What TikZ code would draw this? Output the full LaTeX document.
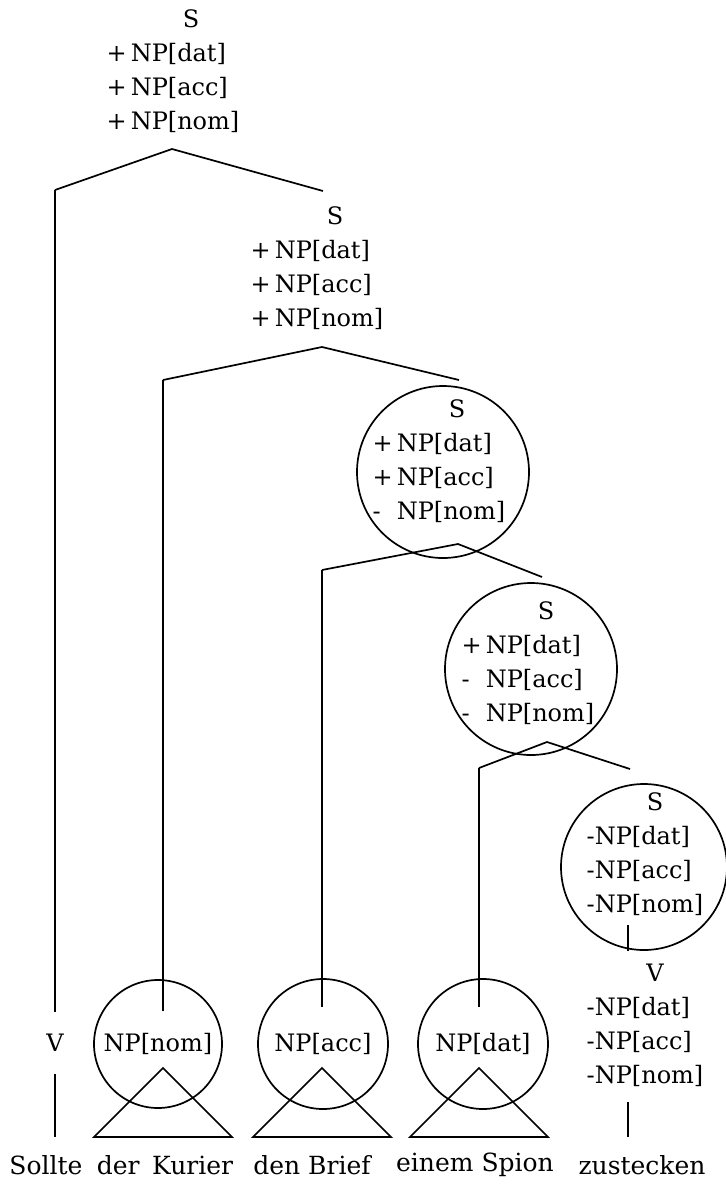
\documentclass[tikz,border=0pt]{standalone}
\usepackage{fontspec}
\setmainfont{DejaVu Serif}
\usetikzlibrary{calc,positioning}

\tikzset{
  feat/.style={inner sep=0pt,font=\fontsize{12}{17}\selectfont},
  ring/.style={circle,draw,inner sep=0pt,font=\fontsize{12}{17}\selectfont},
  word/.style={inner sep=0pt,font=\fontsize{12.5}{17}\selectfont}
}

\begin{document}
\begin{tikzpicture}[x=0.5pt,y=-0.5pt,line width=0.85pt]
\useasboundingbox (0,0) rectangle (725,1189);

% feature structures
\node[feat] (s1) at (173,72) {\begin{tabular}{@{}l@{}l@{}}
  & \multicolumn{1}{c@{}}{S}\\ +\,& NP[dat]\\ +\,& NP[acc]\\ +\,& NP[nom]\end{tabular}};
\node[feat] (s2) at (317,269) {\begin{tabular}{@{}l@{}l@{}}
  & \multicolumn{1}{c@{}}{S}\\ +\,& NP[dat]\\ +\,& NP[acc]\\ +\,& NP[nom]\end{tabular}};
\node[feat] (s3) at (439,462) {\begin{tabular}{@{}l@{}l@{}}
  & \multicolumn{1}{c@{}}{S}\\ +\,& NP[dat]\\ +\,& NP[acc]\\ -\,\,& NP[nom]\end{tabular}};
\node[feat] (s4) at (528,664) {\begin{tabular}{@{}l@{}l@{}}
  & \multicolumn{1}{c@{}}{S}\\ +\,& NP[dat]\\ -\,\,& NP[acc]\\ -\,\,& NP[nom]\end{tabular}};
\node[feat] (s5) at (645,855) {\begin{tabular}{@{}l@{}l@{}}
  & \multicolumn{1}{c@{}}{S}\\ -& NP[dat]\\ -& NP[acc]\\ -& NP[nom]\end{tabular}};
\node[feat] (v5) at (645,1026) {\begin{tabular}{@{}l@{}l@{}}
  & \multicolumn{1}{c@{}}{V}\\ -& NP[dat]\\ -& NP[acc]\\ -& NP[nom]\end{tabular}};

% circles
\node[ring,minimum size=86pt] (c3) at (443,472) {};
\node[ring,minimum size=86pt] (c4) at (531,669) {};
\node[ring,minimum size=83pt] (c5) at (644,867) {};

% daughters
\node[feat,minimum height=30pt] (v1) at (55,1043) {V};
\node[ring,minimum size=64pt] (npn) at (158,1044) {NP[nom]};
\node[ring,minimum size=65pt] (npa) at (323,1044) {NP[acc]};
\node[ring,minimum size=65pt] (npd) at (483,1044) {NP[dat]};

% words
\node[word] (w1) at (46,1165) {Sollte};
\node[word] (w2) at (165,1165) {der\hspace{0.5em}Kurier};
\node[word] (w3) at (312,1165) {den Brief};
\node[word] (w4) at (475,1165) {einem Spion};
\node[word] (w5) at (642,1165) {zustecken};

% branch points
\coordinate (base) at (0,1137);
\coordinate (b1) at (172,149);
\coordinate (b1l) at (55,190);
\coordinate (b1r) at (323,191);
\coordinate (b2) at (322,347);
\coordinate (b2l) at (163,380);
\coordinate (b2r) at (459,380);
\coordinate (b3) at (458,544);
\coordinate (b3l) at (322,570);
\coordinate (b3r) at (542,577);
\coordinate (b4) at (547,742);
\coordinate (b4l) at (479,768);
\coordinate (b4r) at (630,769);
\coordinate (vl) at (628,925);
\coordinate (vm) at (628,1102);

\draw (b1l) -- (b1) -- (b1r);
\draw (b2l) -- (b2) -- (b2r);
\draw (b3l) -- (b3) -- (b3r);
\draw (b4l) -- (b4) -- (b4r);

\draw (b1l) -- (v1.north);
\draw (v1.south) -- (v1.south |- base);
\draw (b2l) -- ($(b2l |- npn.center)+(0,-33)$);
\draw (b3l) -- ($(b3l |- npa.center)+(0,-37)$);
\draw (b4l) -- ($(b4l |- npd.center)+(0,-37)$);
\draw (vl) -- (vl |- c5.south);
\draw (vm) -- (vm |- base);

% subtrees
\foreach \br/\np in {b2l/npn,b3l/npa,b4l/npd}
  \draw (\br |- \np.center) ++(0,24) -- ++(-69,69) -- ++(138,0) -- cycle;
\end{tikzpicture}
\end{document}
